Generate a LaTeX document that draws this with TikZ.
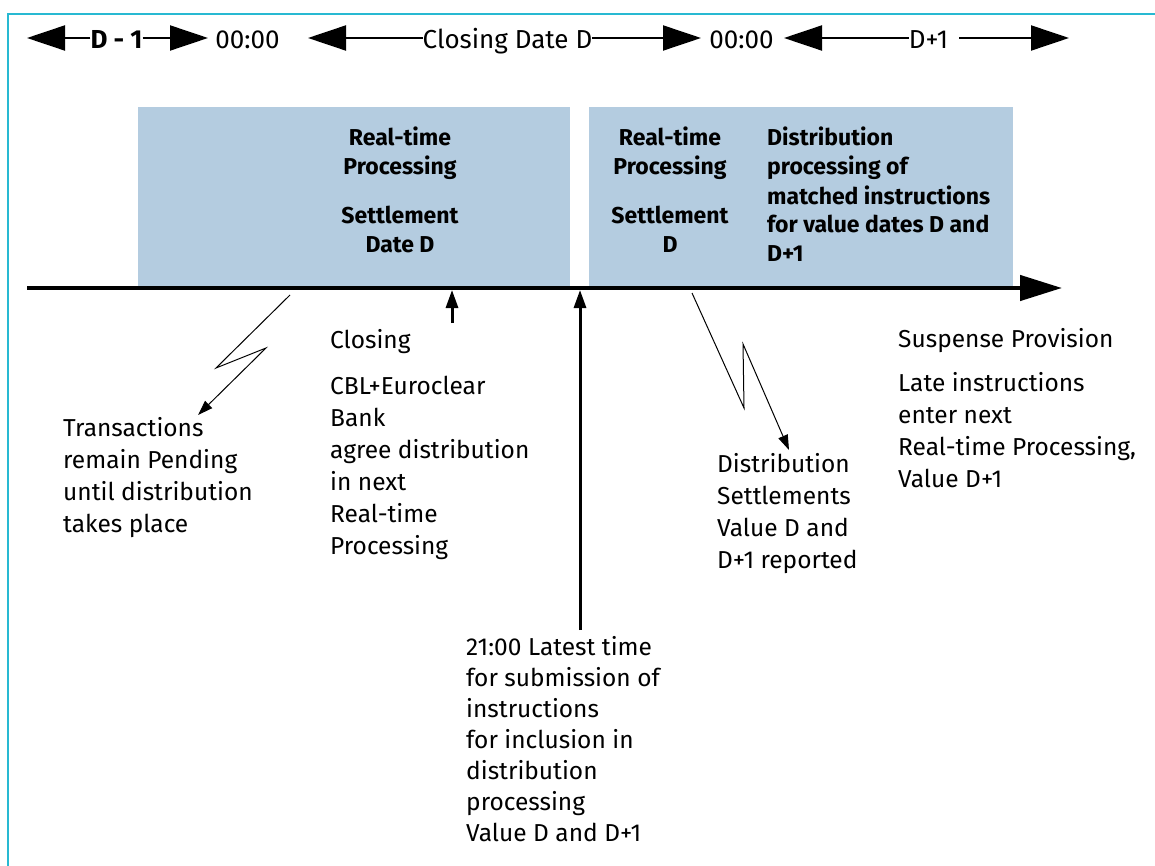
\documentclass[tikz,border=0pt]{standalone}
\usepackage{fontspec}
\setmainfont{Fira Sans}
\usetikzlibrary{arrows.meta}
\definecolor{boxblue}{RGB}{180,204,224}
\definecolor{framecyan}{RGB}{40,185,210}
\begin{document}
\begin{tikzpicture}[x=1pt,y=-1pt,
  topline/.style={line width=2pt,-{Triangle[length=38pt,width=25pt]}},
  toplabel/.style={font=\fontsize{26}{30}\selectfont, inner sep=0pt, anchor=base},
  bluebox/.style={fill=boxblue, draw=none, inner sep=0pt},
  boxtext/.style={font=\bfseries\fontsize{23}{29}\selectfont, inner sep=0pt, anchor=base, align=center},
  boxtextl/.style={font=\bfseries\fontsize{23}{29}\selectfont, inner sep=0pt, anchor=base west, align=left},
  note/.style={font=\fontsize{24.5}{32}\selectfont, inner sep=0pt, anchor=base west, align=left},
  timeline/.style={line width=4.5pt,-{Triangle[length=42pt,width=25pt]}},
  zig/.style={line width=1pt,-{Triangle[length=15pt,width=10pt]}},
  uparrow/.style={line width=3pt,-{Triangle[length=18pt,width=12pt]}}
]
\useasboundingbox (0,0) rectangle (1155,866);
\fill[white] (0,0) rectangle (1155,866);
% frame
\draw[framecyan, line width=1.5pt] (8,866) -- (8,14) -- (1155,14);

% top labels
\node[toplabel, font=\bfseries\fontsize{26}{30}\selectfont] (d1) at (116.5,49) {D - 1};
\node[toplabel] (t0a) at (247.5,49) {00:00};
\node[toplabel] (cd) at (507.5,49) {Closing Date D};
\node[toplabel] (t0b) at (741.5,49) {00:00};
\node[toplabel] (dp1) at (928.5,49) {D+1};
\coordinate (a1) at (27,38);
\coordinate (a2) at (208,38);
\coordinate (a3) at (308,38);
\coordinate (a4) at (701,38);
\coordinate (a5) at (784,38);
\coordinate (a6s) at (959,38);
\coordinate (a6) at (1069,38);
\draw[topline] (d1.west |- a1) -- (a1);
\draw[topline] (d1.east |- a2) -- (a2);
\draw[topline] (cd.west |- a3) -- (a3);
\draw[topline] (cd.east |- a4) -- (a4);
\draw[topline] (dp1.west |- a5) -- (a5);
\draw[topline] (a6s) -- (a6);

% boxes
\node[bluebox, minimum width=432pt, minimum height=179pt] (box1) at (354,196.5) {};
\node[bluebox, minimum width=424pt, minimum height=179pt] (box2) at (801,196.5) {};
\node[boxtext] (rt1) at (400,175) {Real-time\\Processing};
\node[boxtext] (sd1) at (400,253) {Settlement\\Date D};
\node[boxtext] (rt2) at (670,175) {Real-time\\Processing};
\node[boxtext] (sd2) at (670,253) {Settlement\\D};
\node[boxtextl] (dpm) at (767,262) {Distribution\\processing of\\matched instructions\\for value dates D and\\D+1};

% timeline
\coordinate (tlS) at (27,288);
\coordinate (tlE) at (1062,288);
\draw[timeline] (tlS) -- (tlE);

% notes (base anchor = baseline of the last line)
\node[note] (trans) at (63,532) {Transactions\\remain Pending\\until distribution\\takes place};
\node[note] (closing) at (330,348) {Closing};
\node[note] (cbl) at (330,554) {CBL+Euroclear\\Bank\\agree distribution\\in next\\Real-time\\Processing};
\node[note, font=\fontsize{24.5}{31}\selectfont] (latest) at (466,841) {21:00 Latest time\\for submission of\\instructions\\for inclusion in\\distribution\\processing\\Value D and D+1};
\node[note] (dist) at (717,568) {Distribution\\Settlements\\Value D and\\D+1 reported};
\node[note] (susp) at (898,347) {Suspense Provision};
\node[note] (late) at (898,487) {Late instructions\\enter next\\Real-time Processing,\\Value D+1};

% connectors
\coordinate (z1a) at (290,295);
\coordinate (z1b) at (216,368);
\coordinate (z1c) at (266,348);
\coordinate (z1d) at (198,415);
\draw[zig] (z1a) -- (z1b) -- (z1c) -- (z1d);

\coordinate (z2a) at (692,293);
\coordinate (z2b) at (744,408);
\coordinate (z2c) at (743,344);
\coordinate (z2d) at (789,450);
\draw[zig] (z2a) -- (z2b) -- (z2c) -- (z2d);

\coordinate (clB) at (452,323);
\coordinate (clT) at (452,290);
\draw[uparrow] (clB) -- (clT);

\coordinate (ltB) at (580,630);
\coordinate (ltT) at (580,290);
\draw[uparrow] (ltB) -- (ltT);
\end{tikzpicture}
\end{document}
